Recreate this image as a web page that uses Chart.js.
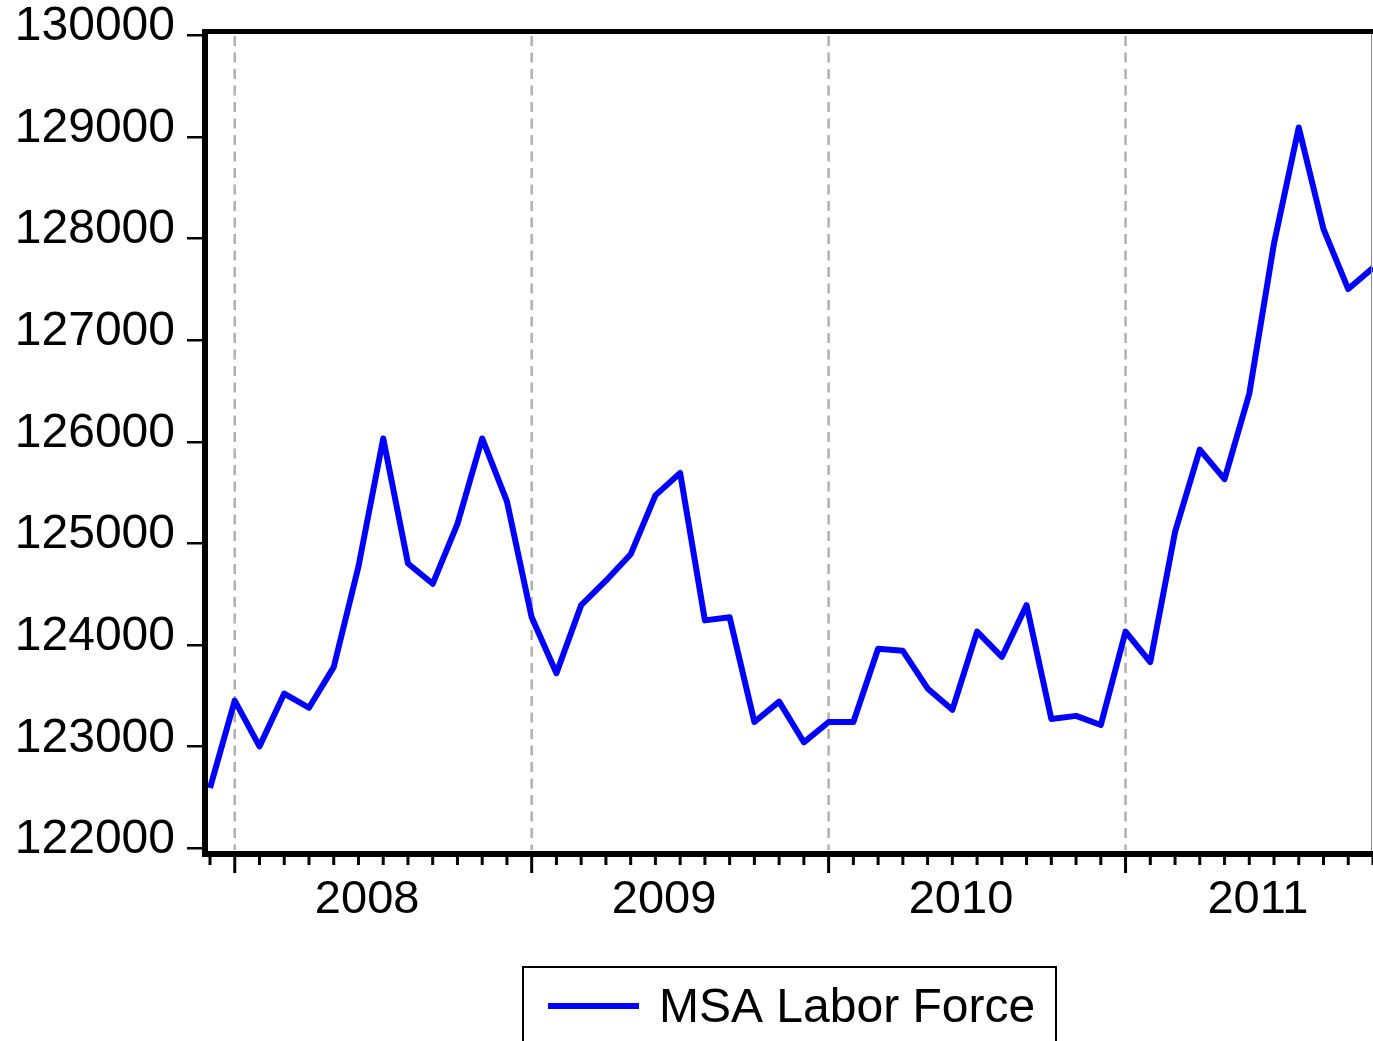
<!DOCTYPE html>
<html>
<head>
<meta charset="utf-8">
<title>MSA Labor Force</title>
<script src="https://cdn.jsdelivr.net/npm/chart.js@4.4.1/dist/chart.umd.min.js"></script>
<style>
  html, body { margin: 0; padding: 0; background: #fff; }
  #wrap { width: 1373px; height: 1041px; }
</style>
</head>
<body>
<div id="wrap"><canvas id="chart" width="1373" height="1041"></canvas></div>
<script>
// monthly observations, Dec 2007 - Nov 2011
const months = [
  'Dec 2007',
  'Jan 2008', 'Feb 2008', 'Mar 2008', 'Apr 2008', 'May 2008', 'Jun 2008',
  'Jul 2008', 'Aug 2008', 'Sep 2008', 'Oct 2008', 'Nov 2008', 'Dec 2008',
  'Jan 2009', 'Feb 2009', 'Mar 2009', 'Apr 2009', 'May 2009', 'Jun 2009',
  'Jul 2009', 'Aug 2009', 'Sep 2009', 'Oct 2009', 'Nov 2009', 'Dec 2009',
  'Jan 2010', 'Feb 2010', 'Mar 2010', 'Apr 2010', 'May 2010', 'Jun 2010',
  'Jul 2010', 'Aug 2010', 'Sep 2010', 'Oct 2010', 'Nov 2010', 'Dec 2010',
  'Jan 2011', 'Feb 2011', 'Mar 2011', 'Apr 2011', 'May 2011', 'Jun 2011',
  'Jul 2011', 'Aug 2011', 'Sep 2011', 'Oct 2011', 'Nov 2011'
];

const laborForce = [
  122590,
  123450, 123000, 123520, 123380, 123780, 124770,
  126030, 124800, 124600, 125190, 126030, 125410,
  124270, 123720, 124390, 124630, 124890, 125470,
  125690, 124240, 124270, 123240, 123440, 123040,
  123240, 123240, 123960, 123940, 123570, 123360,
  124130, 123880, 124390, 123270, 123300, 123210,
  124130, 123830, 125110, 125920, 125630, 126470,
  127950, 129090, 128090, 127500, 127710
];

const yearLabels = ['2008', '2009', '2010', '2011'];
const seriesName = 'MSA Labor Force';

const FONT = '"Liberation Sans", Arial, sans-serif';

// dashed year lines, tick marks, frame, year labels, legend box
const evFrame = {
  id: 'evFrame',
  beforeDatasetsDraw(chart) {
    const ctx = chart.ctx, x = chart.scales.x;
    ctx.save();
    ctx.strokeStyle = '#b0b0b0';
    ctx.lineWidth = 2.5;
    ctx.setLineDash([10, 6.5]);
    months.forEach((m, i) => {
      if (m.startsWith('Jan')) {
        const px = x.getPixelForValue(i);
        ctx.beginPath();
        ctx.moveTo(px, 36);
        ctx.lineTo(px, 850);
        ctx.stroke();
      }
    });
    ctx.restore();
  },
  afterDraw(chart) {
    const ctx = chart.ctx, x = chart.scales.x, y = chart.scales.y;
    ctx.save();
    ctx.fillStyle = '#000';
    // frame
    ctx.fillRect(202, 29, 1373 - 202, 5);
    ctx.fillRect(202, 29, 6, 857 - 29);
    ctx.fillRect(202, 851, 1373 - 202, 6);
    ctx.fillStyle = '#888';
    ctx.fillRect(1371, 34, 1, 817);

    // y tick marks
    ctx.fillStyle = '#000';
    y.ticks.forEach(t => {
      const py = y.getPixelForValue(t.value);
      ctx.fillRect(187, Math.round(py) - 1, 15, 2.5);
    });

    // x tick marks, longer at January
    months.forEach((m, i) => {
      const px = x.getPixelForValue(i);
      const len = m.startsWith('Jan') ? 16 : 8;
      ctx.fillRect(px - 1.5, 857, 3, len);
    });

    // year labels
    ctx.font = '47px ' + FONT;
    ctx.textAlign = 'center';
    ctx.textBaseline = 'alphabetic';
    yearLabels.forEach(yr => {
      const j = months.indexOf('Jan ' + yr);
      ctx.fillText(yr, x.getPixelForValue(j + 5.35), 913);
    });

    // legend
    const ds = chart.data.datasets[0];
    ctx.strokeStyle = '#000';
    ctx.lineWidth = 2;
    ctx.strokeRect(523, 967, 533, 90);
    ctx.strokeStyle = ds.borderColor;
    ctx.lineWidth = 6;
    ctx.beginPath();
    ctx.moveTo(548, 1006);
    ctx.lineTo(639, 1006);
    ctx.stroke();
    ctx.fillStyle = '#000';
    ctx.textAlign = 'left';
    ctx.font = '48px ' + FONT;
    ctx.fillText(ds.label, 659, 1022);
    ctx.restore();
  }
};

new Chart(document.getElementById('chart'), {
  type: 'line',
  data: {
    labels: months,
    datasets: [{
      label: seriesName,
      data: laborForce,
      borderColor: '#0000ff',
      borderWidth: 6,
      borderJoinStyle: 'round',
      pointRadius: 0,
      tension: 0,
      fill: false
    }]
  },
  options: {
    responsive: false,
    animation: false,
    layout: { padding: { top: 35, right: -3, bottom: 0, left: 0 } },
    plugins: { legend: { display: false }, tooltip: { enabled: false } },
    scales: {
      x: {
        type: 'category',
        offset: false,
        grid: { display: false, drawTicks: false },
        border: { display: false },
        ticks: { display: false },
        afterFit(s) { s.height = 1041 - 848; }
      },
      y: {
        min: 122000,
        max: 130000,
        grid: { display: false, drawTicks: true, tickLength: 35 },
        border: { display: false },
        ticks: {
          stepSize: 1000,
          padding: 0,
          labelOffset: -8,
          color: '#000',
          font: { family: FONT, size: 48 },
          callback: v => String(v)
        },
        afterFit(s) { s.width = 210; }
      }
    }
  },
  plugins: [evFrame]
});
</script>
</body>
</html>
